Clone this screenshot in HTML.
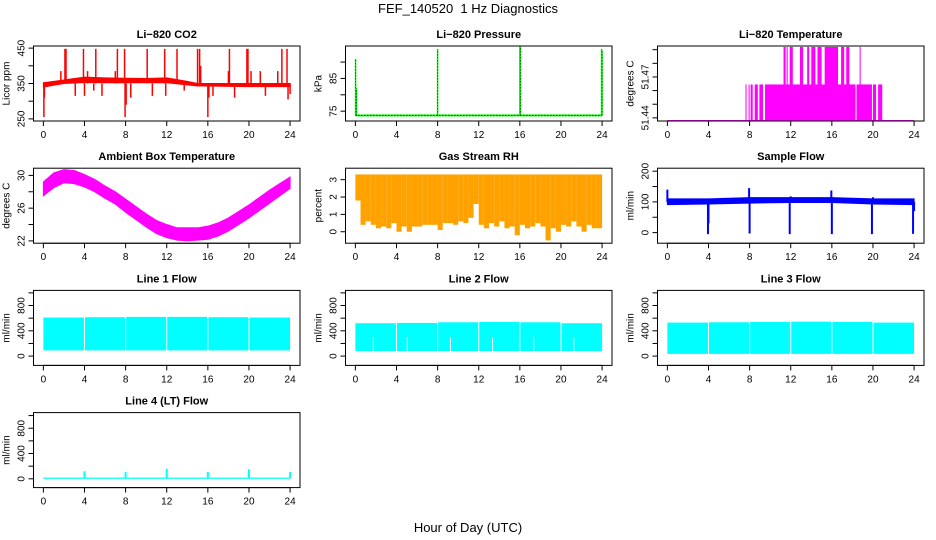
<!DOCTYPE html>
<html><head><meta charset="utf-8"><style>
html,body{margin:0;padding:0;background:#fff;}
svg{display:block;font-family:"Liberation Sans",Arial,sans-serif;}
</style></head><body>
<svg id="chart" width="936" height="540" viewBox="0 0 936 540" xmlns="http://www.w3.org/2000/svg">
<text x="468" y="13" text-anchor="middle" font-size="13">FEF_140520&#160; 1 Hz Diagnostics</text>
<text x="468" y="532" text-anchor="middle" font-size="13">Hour of Day (UTC)</text>
</svg>
<script>
// ---------- data ----------
const xTicks = [0,4,8,12,16,20,24];
// CO2
const co2BandT  = [0,2,4,6,8,10,12,14,15,16,18,20,22,24];
const co2BandLo = [340,350,353,352,352,352,352,346,343,343,342,341,341,341];
const co2BandHi = [352,360,368,366,365,364,366,356,350,350,350,350,350,350];
const co2SpikeT = [0.05,0.1,1.7,2.1,2.2,3.1,3.9,4.0,4.3,4.9,5.1,5.7,7.0,7.2,7.9,7.95,8.05,8.5,10.1,10.6,11.8,11.9,13.0,13.7,15.0,15.2,15.3,16.0,16.1,16.5,18.0,18.1,18.6,19.8,19.9,20.2,21.1,21.6,22.8,23.2,23.7,23.8,24.0];
const co2SpikeV = [255,310,385,448,448,315,448,315,385,330,448,315,385,448,448,255,290,310,448,315,448,315,448,330,448,448,400,255,310,315,385,448,310,448,448,385,385,315,385,448,448,305,320];
// Pressure
const presBase = 73.7;
const presSpikeT = [0.02,0.1,8.0,16.0,16.05,23.95,24.0];
const presSpikeV = [91,82,94,95,95,94,93.5];
// Li-820 temperature
const tempBase = 51.438, tempMid = 51.4645, tempTop = 51.492;
const tempMidStart = [7.6,7.9,8.1,8.5,8.95,9.5,18.4,20.0,20.5];
const tempMidEnd   = [7.7,8.0,8.3,8.8,9.3,18.3,19.9,20.3,20.9];
const tempTopStart = [11.3,11.6,11.9,12.9,13.6,14.0,14.6,15.3,16.9,17.4,18.7];
const tempTopEnd   = [11.5,11.7,12.2,13.2,13.8,14.4,15.0,16.6,17.2,17.7,18.8];
// Ambient box temperature
const ambT  = [0,1,2,3,4,5,6,7,8,9,10,11,12,13,14,15,16,17,18,19,20,21,22,23,24];
const ambLo = [27.5,28.5,29.1,29.0,28.6,28.0,27.2,26.5,25.5,24.6,23.7,22.9,22.4,22.1,22.0,22.1,22.2,22.6,23.2,24.0,24.8,25.7,26.6,27.5,28.4];
const ambHi = [29.2,30.3,30.7,30.6,30.1,29.5,28.7,28.0,27.1,26.2,25.3,24.5,24.0,23.6,23.6,23.6,23.8,24.2,24.8,25.6,26.4,27.3,28.2,29.0,29.8];
// Gas stream RH
const rhHi = 3.3;
const rhLo = [1.8,0.4,0.6,0.4,0.2,0.3,0.2,0.5,0.0,0.3,0.0,0.3,0.3,0.4,0.4,0.4,0.1,0.5,0.5,0.4,0.6,0.5,0.8,1.6,0.4,0.2,0.5,0.3,0.6,0.2,0.3,-0.2,0.4,0.2,0.3,0.5,0.3,-0.5,0.2,0.0,0.4,0.3,0.6,0.3,0.0,0.4,0.2,0.2];
// Sample flow
const sfT  = [0,4,8,12,16,20,24];
const sfLo = [91,93,96,98,98,93,91];
const sfHi = [110,110,114,114,114,110,110];
const sfSpikeT = [0.0,3.95,4.0,7.95,8.0,11.9,12.0,15.95,16.0,19.9,20.0,23.9,24.0];
const sfSpikeV = [140,-5,30,145,-3,-5,118,137,-5,-5,115,-4,70];
// Line flows
const segStart = [0,4.05,8.05,12.05,16.05,20.05];
const segEnd   = [3.95,7.95,11.95,15.95,19.95,24.0];
const l1Lo = 90,  l1Hi = [610,615,620,620,615,610];
const l2Lo = 80,  l2Hi = [520,525,535,540,535,520];
const l3Lo = 35,  l3Hi = [530,535,540,545,540,530];
const l2GapT = [1.7,5.0,9.2,13.3,17.3,21.2];
const l4Spike = [4.0,8.0,12.0,16.0,20.0,24.0];
const l4SpikeV = [120,110,160,110,150,110];

// ---------- helpers ----------
const svg = document.getElementById('chart');
const NS = 'http://www.w3.org/2000/svg';
function mk(tag, attrs, parent){
  const e = document.createElementNS(NS, tag);
  for (const k in attrs) e.setAttribute(k, attrs[k]);
  (parent||svg).appendChild(e);
  return e;
}
function panel(col,row,title,ylabel,ylim,yticks,ylabs,name){
  const L = 33.5 + 312*col, R = L + 266.5;
  const T = 46 + 122.2*row, B = T + 75;
  const g = mk('g',{});
  
  
  const xs = t => L + 9.87 + t*10.28;
  const ys = v => B - (v-ylim[0])/(ylim[1]-ylim[0])*(B-T);
  const clip = 'clip'+col+row;
  const cp = mk('clipPath',{id:clip},g);
  mk('rect',{x:L,y:T,width:R-L,height:B-T},cp);
  const plot = mk('g',{'clip-path':'url(#'+clip+')'},g);
  
  
  const box = mk('rect',{x:L,y:T,width:R-L,height:B-T,fill:'none',stroke:'#000','stroke-width':1},g);
  
  
  const t1 = mk('text',{x:(L+R)/2,y:T-8,'text-anchor':'middle','font-size':11,'font-weight':'bold'},g);
  t1.textContent = title;
  
  
  const yl = mk('text',{x:0,y:0,'text-anchor':'middle','font-size':10,transform:'translate('+(L-24)+','+((T+B)/2)+') rotate(-90)'},g);
  yl.textContent = ylabel;
  
  
  mk('line',{x1:xs(0),x2:xs(24),y1:B,y2:B,stroke:'#000'},g);
  xTicks.forEach(t=>{
    mk('line',{x1:xs(t),x2:xs(t),y1:B,y2:B+5,stroke:'#000'},g);
    const tx = mk('text',{x:xs(t),y:B+17,'text-anchor':'middle','font-size':10},g);
    tx.textContent = t;
    
    
  });
  mk('line',{x1:L,x2:L,y1:ys(yticks[0]),y2:ys(yticks[yticks.length-1]),stroke:'#000'},g);
  yticks.forEach(v=>{
    mk('line',{x1:L,x2:L-5,y1:ys(v),y2:ys(v),stroke:'#000'},g);
  });
  ylabs.forEach(v=>{
    const tx = mk('text',{x:0,y:0,'text-anchor':'middle','font-size':10,transform:'translate('+(L-9)+','+ys(v)+') rotate(-90)'},g);
    tx.textContent = v;
    
    
  });
  return {plot,xs,ys};
}
function band(p,T,lo,hi,color){
  let d = 'M'+p.xs(T[0])+','+p.ys(hi[0]);
  for(let i=1;i<T.length;i++) d+='L'+p.xs(T[i])+','+p.ys(hi[i]);
  for(let i=T.length-1;i>=0;i--) d+='L'+p.xs(T[i])+','+p.ys(lo[i]);
  const e = mk('path',{d:d+'Z',fill:color,stroke:color,'stroke-width':1},p.plot);
  
  
}
function vline(p,t,v0,v1,color,w){
  const e = mk('line',{x1:p.xs(t),x2:p.xs(t),y1:p.ys(v0),y2:p.ys(v1),stroke:color,'stroke-width':w||1.5},p.plot);
  
  
}
function rect(p,t0,t1,v0,v1,color){
  const e = mk('rect',{x:p.xs(t0),y:p.ys(v1),width:Math.max(0.8,p.xs(t1)-p.xs(t0)),height:p.ys(v0)-p.ys(v1),fill:color},p.plot);
  
  
}

// ---------- panels ----------
let p = panel(0,0,'Li\u2212820 CO2','Licor ppm',[244,456],[250,300,350,400,450],[250,350,450],'co2-panel');
co2SpikeT.forEach((t,i)=>vline(p,t,350,co2SpikeV[i],'#ff0000',1.5));
band(p,co2BandT,co2BandLo,co2BandHi,'#ff0000');

p = panel(1,0,'Li\u2212820 Pressure','kPa',[72.0,94.9],[75,80,85,90],[75,85],'pressure-panel');
rect(p,0,24,presBase-0.3,presBase+0.3,'#00ff00');
mk('line',{x1:p.xs(0),x2:p.xs(24),y1:p.ys(presBase),y2:p.ys(presBase),stroke:'#000','stroke-dasharray':'1,2'},p.plot);
presSpikeT.forEach((t,i)=>{vline(p,t,presBase,presSpikeV[i],'#00ff00',1.5);
  mk('line',{x1:p.xs(t),x2:p.xs(t),y1:p.ys(presBase),y2:p.ys(presSpikeV[i]),stroke:'#000','stroke-dasharray':'1,2','stroke-width':0.8},p.plot);});

p = panel(2,0,'Li\u2212820 Temperature','degrees C',[51.4377,51.4927],[51.44,51.45,51.46,51.47,51.48,51.49],[51.44,51.47],'li820-temp-panel');
rect(p,0,24,tempBase-0.0004,tempBase+0.0004,'#ff00ff');
tempMidStart.forEach((s,i)=>rect(p,s,tempMidEnd[i],tempBase,tempMid,'#ff00ff'));
tempTopStart.forEach((s,i)=>rect(p,s,tempTopEnd[i],tempBase,tempTop,'#ff00ff'));

p = panel(0,1,'Ambient Box Temperature','degrees C',[21.72,30.88],[22,24,26,28,30],[22,26,30],'ambient-temp-panel');
band(p,ambT,ambLo,ambHi,'#ff00ff');

p = panel(1,1,'Gas Stream RH','percent',[-0.66,3.66],[0,1,2,3],[0,1,2,3],'rh-panel');
rhLo.forEach((lo,i)=>rect(p,i*0.5,i*0.5+0.5,lo,rhHi,'#ffa200'));

p = panel(2,1,'Sample Flow','ml/min',[-34.5,209.7],[0,50,100,150,200],[0,100,200],'sample-flow-panel');
sfSpikeT.forEach((t,i)=>vline(p,t,100,sfSpikeV[i],'#0000ff',2));
band(p,sfT,sfLo,sfHi,'#0000ff');

const flowTicks=[0,200,400,600,800,1000], flowLabs=[0,400,800];
p = panel(0,2,'Line 1 Flow','ml/min',[-147,1039],flowTicks,flowLabs,'line1-flow-panel');
segStart.forEach((s,i)=>rect(p,s,segEnd[i],l1Lo,l1Hi[i],'#00ffff'));
p = panel(1,2,'Line 2 Flow','ml/min',[-147,1039],flowTicks,flowLabs,'line2-flow-panel');
segStart.forEach((s,i)=>rect(p,s,segEnd[i],l2Lo,l2Hi[i],'#00ffff'));
l2GapT.forEach(t=>rect(p,t,t+0.1,l2Lo-5,300,'#ffffff'));
p = panel(2,2,'Line 3 Flow','ml/min',[-147,1039],flowTicks,flowLabs,'line3-flow-panel');
segStart.forEach((s,i)=>rect(p,s,segEnd[i],l3Lo,l3Hi[i],'#00ffff'));
p = panel(0,3,'Line 4 (LT) Flow','ml/min',[-139,1047],flowTicks,flowLabs,'line4-flow-panel');
rect(p,0,24,0,20,'#00ffff');
l4Spike.forEach((t,i)=>vline(p,t,10,l4SpikeV[i],'#00ffff',2));
</script>
</body></html>
